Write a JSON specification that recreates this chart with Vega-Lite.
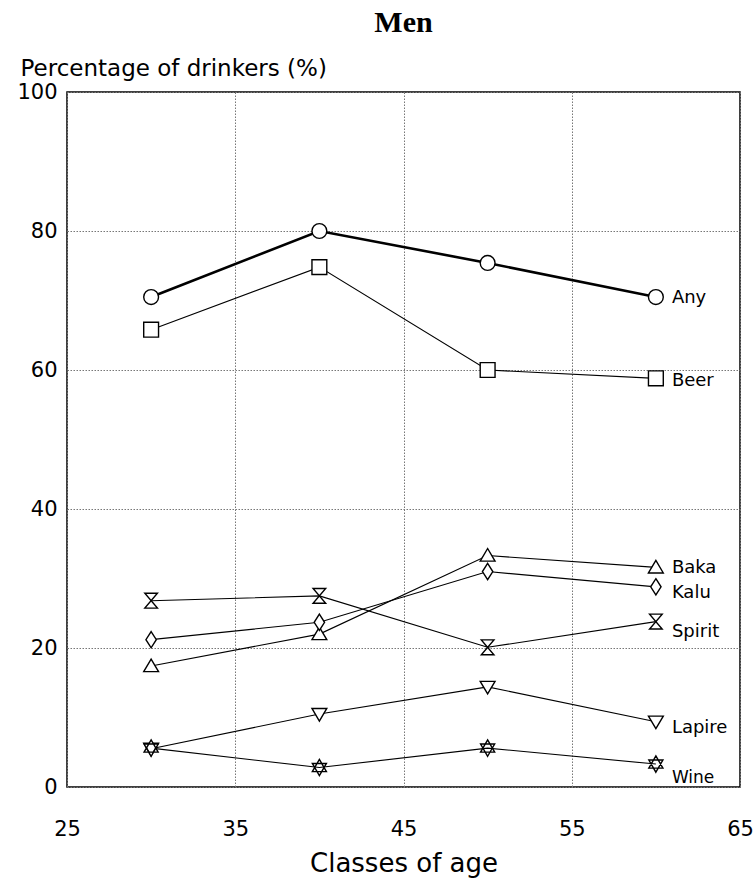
{
  "$schema": "https://vega.github.io/schema/vega-lite/v6.json",
  "autosize": "none",
  "width": 673,
  "height": 695,
  "padding": {"left": 67, "top": 92, "right": 16, "bottom": 97},
  "background": "white",
  "title": {
    "text": "Men",
    "font": "Liberation Serif",
    "fontSize": 30,
    "fontWeight": "bold",
    "color": "black",
    "anchor": "middle",
    "offset": 19
  },
  "config": {
    "view": {"stroke": "black", "strokeWidth": 1.5},
    "axis": {
      "domain": false,
      "ticks": false,
      "grid": true,
      "labelFlush": false,
      "gridColor": "#777",
      "gridDash": [1.5, 1.5],
      "gridWidth": 1,
      "labelFont": "DejaVu Sans",
      "labelFontSize": 21,
      "labelColor": "black",
      "titleFont": "DejaVu Sans",
      "titleFontWeight": "normal",
      "titleColor": "black"
    }
  },
  "data": {
    "values": [
      {"series": "Any", "age": 30, "pct": 70.5},
      {"series": "Any", "age": 40, "pct": 80.0},
      {"series": "Any", "age": 50, "pct": 75.4},
      {"series": "Any", "age": 60, "pct": 70.5},
      {"series": "Beer", "age": 30, "pct": 65.8},
      {"series": "Beer", "age": 40, "pct": 74.8},
      {"series": "Beer", "age": 50, "pct": 60.0},
      {"series": "Beer", "age": 60, "pct": 58.8},
      {"series": "Baka", "age": 30, "pct": 17.4},
      {"series": "Baka", "age": 40, "pct": 22.0},
      {"series": "Baka", "age": 50, "pct": 33.3},
      {"series": "Baka", "age": 60, "pct": 31.6},
      {"series": "Kalu", "age": 30, "pct": 21.2},
      {"series": "Kalu", "age": 40, "pct": 23.7},
      {"series": "Kalu", "age": 50, "pct": 31.0},
      {"series": "Kalu", "age": 60, "pct": 28.8},
      {"series": "Spirit", "age": 30, "pct": 26.8},
      {"series": "Spirit", "age": 40, "pct": 27.5},
      {"series": "Spirit", "age": 50, "pct": 20.1},
      {"series": "Spirit", "age": 60, "pct": 23.8},
      {"series": "Lapire", "age": 30, "pct": 5.5},
      {"series": "Lapire", "age": 40, "pct": 10.5},
      {"series": "Lapire", "age": 50, "pct": 14.4},
      {"series": "Lapire", "age": 60, "pct": 9.4},
      {"series": "Wine", "age": 30, "pct": 5.6},
      {"series": "Wine", "age": 40, "pct": 2.8},
      {"series": "Wine", "age": 50, "pct": 5.6},
      {"series": "Wine", "age": 60, "pct": 3.3}
    ]
  },
  "encoding": {
    "x": {
      "field": "age",
      "type": "quantitative",
      "scale": {"domain": [25, 65], "nice": false, "zero": false},
      "axis": {
        "values": [25, 35, 45, 55, 65],
        "labelPadding": 31,
        "title": "Classes of age",
        "titleFontSize": 26,
        "titlePadding": 11
      }
    },
    "y": {
      "field": "pct",
      "type": "quantitative",
      "scale": {"domain": [0, 100], "nice": false},
      "axis": {
        "values": [0, 20, 40, 60, 80, 100],
        "labelPadding": 10,
        "title": "Percentage of drinkers (%)",
        "titleFontSize": 23,
        "titleAngle": 0,
        "titleAlign": "left",
        "titleBaseline": "alphabetic",
        "titleX": -47,
        "titleY": -17
      }
    }
  },
  "layer": [
    {
      "transform": [{"filter": "datum.series != 'Any'"}],
      "mark": {"type": "line", "color": "black", "strokeWidth": 1.1},
      "encoding": {"detail": {"field": "series"}}
    },
    {
      "transform": [{"filter": "datum.series == 'Any'"}],
      "mark": {"type": "line", "color": "black", "strokeWidth": 2.6},
      "encoding": {}
    },
    {
      "mark": {"type": "point", "filled": true, "fill": "white", "stroke": "black", "strokeWidth": 1.4, "size": 220, "opacity": 1},
      "encoding": {
        "shape": {
          "field": "series",
          "type": "nominal",
          "scale": {
            "domain": ["Any", "Beer", "Baka", "Kalu", "Spirit", "Lapire", "Wine"],
            "range": [
              "circle",
              "square",
              "M-1,0.75L0,-0.95L1,0.75Z",
              "M0,-1.1L0.7,0L0,1.1L-0.7,0Z",
              "M-0.85,-1L0.85,-1L-0.85,1L0.85,1Z",
              "M-1,-0.75L1,-0.75L0,0.95Z",
              "M0,-1.1L0.95,0.55L-0.95,0.55Z M0,1.1L0.95,-0.55L-0.95,-0.55Z"
            ]
          },
          "legend": null
        }
      }
    },
    {
      "transform": [{"filter": "datum.age == 60 && (datum.series == 'Any' || datum.series == 'Baka')"}],
      "mark": {"type": "text", "align": "left", "baseline": "middle", "dx": 16, "dy": 1, "font": "DejaVu Sans", "fontSize": 18, "letterSpacing": 1.2, "color": "black"},
      "encoding": {"text": {"field": "series"}}
    },
    {
      "transform": [{"filter": "datum.age == 60 && datum.series == 'Beer'"}],
      "mark": {"type": "text", "align": "left", "baseline": "middle", "dx": 16, "dy": 3, "font": "DejaVu Sans", "fontSize": 18, "letterSpacing": 1.2, "color": "black"},
      "encoding": {"text": {"field": "series"}}
    },
    {
      "transform": [{"filter": "datum.age == 60 && (datum.series == 'Kalu' || datum.series == 'Lapire')"}],
      "mark": {"type": "text", "align": "left", "baseline": "middle", "dx": 16, "dy": 6, "font": "DejaVu Sans", "fontSize": 18, "letterSpacing": 1.2, "color": "black"},
      "encoding": {"text": {"field": "series"}}
    },
    {
      "transform": [{"filter": "datum.age == 60 && datum.series == 'Spirit'"}],
      "mark": {"type": "text", "align": "left", "baseline": "middle", "dx": 16, "dy": 10, "font": "DejaVu Sans", "fontSize": 18, "letterSpacing": 1.2, "color": "black"},
      "encoding": {"text": {"field": "series"}}
    },
    {
      "transform": [{"filter": "datum.age == 60 && datum.series == 'Wine'"}],
      "mark": {"type": "text", "align": "left", "baseline": "middle", "dx": 16, "dy": 14, "font": "DejaVu Sans", "fontSize": 17, "letterSpacing": 1.2, "color": "black"},
      "encoding": {"text": {"field": "series"}}
    }
  ]
}
